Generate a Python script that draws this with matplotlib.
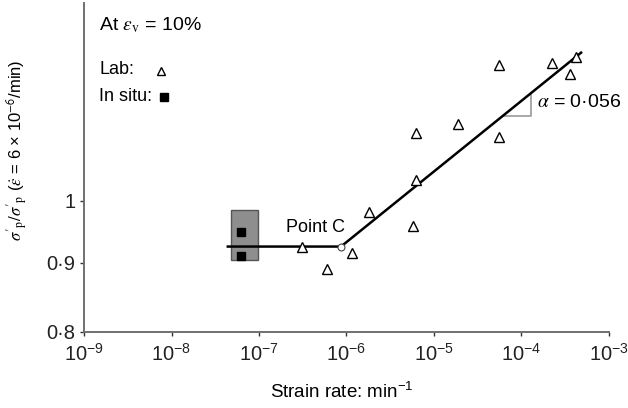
import numpy as np
import matplotlib
matplotlib.use("Agg")
import matplotlib.pyplot as plt
from matplotlib.patches import Rectangle
from matplotlib.ticker import FixedLocator, FixedFormatter, NullLocator

plt.rcParams['font.family'] = ['Liberation Sans', 'DejaVu Sans']
plt.rcParams['mathtext.fontset'] = 'custom'
plt.rcParams['mathtext.rm'] = 'Liberation Sans'
plt.rcParams['mathtext.sf'] = 'Liberation Sans'
plt.rcParams['mathtext.it'] = 'Liberation Sans:italic'

# lab tests (strain rate in 1/min, normalised preconsolidation stress)
lab_rate = [3.1e-7, 6.0e-7, 1.16e-6, 1.8e-6, 5.8e-6, 6.2e-6, 6.3e-6,
            1.9e-5, 5.6e-5, 5.6e-5, 2.25e-4, 3.6e-4, 4.2e-4]
lab_ratio = [0.925, 0.891, 0.915, 0.981, 0.958, 1.036, 1.121,
             1.139, 1.114, 1.259, 1.263, 1.240, 1.276]

# in situ measurements and their range
insitu_rate = [6.3e-8, 6.3e-8]
insitu_ratio = [0.948, 0.910]
insitu_box_rate = [4.8e-8, 9.7e-8]
insitu_box_ratio = [0.904, 0.985]

# bilinear fit, break at point C
fit_rate = [4.4e-8, 8.65e-7, 4.8e-4]
fit_ratio = [0.925, 0.925, 1.286]
point_c = (8.65e-7, 0.925)

xticks = [1e-9, 1e-8, 1e-7, 1e-6, 1e-5, 1e-4, 1e-3]
xtick_labels = [r"10$^{-9}$", r"10$^{-8}$", r"10$^{-7}$", r"10$^{-6}$",
                r"10$^{-5}$", r"10$^{-4}$", r"10$^{-3}$"]
yticks = [0.8, 0.9, 1.0]
ytick_labels = ["0·8", "0·9", "1"]

fig = plt.figure(figsize=(6.28, 4.08), dpi=100)
ax = fig.add_axes([0.1338, 0.1863, 0.8359, 0.8071])
ax.set_xscale("log")
ax.set_yscale("log")
ax.set_xlim(1e-9, 1e-3)
ax.set_ylim(0.8, 1.4)

axis_grey = "#707070"
for side in ["top", "right"]:
    ax.spines[side].set_visible(False)
for side in ["left", "bottom"]:
    ax.spines[side].set_color(axis_grey)
    ax.spines[side].set_linewidth(1.4)

ax.xaxis.set_major_locator(FixedLocator(xticks))
ax.xaxis.set_major_formatter(FixedFormatter(xtick_labels))
ax.xaxis.set_minor_locator(NullLocator())
ax.yaxis.set_major_locator(FixedLocator(yticks))
ax.yaxis.set_major_formatter(FixedFormatter(ytick_labels))
ax.yaxis.set_minor_locator(NullLocator())
ax.tick_params(axis="both", colors="#333333", labelcolor="#222222",
               labelsize=14.5, length=3, width=1, direction="out")
ax.tick_params(axis="x", pad=5)
ax.tick_params(axis="y", pad=3)

# in situ range box
ax.add_patch(Rectangle((insitu_box_rate[0], insitu_box_ratio[0]),
                       insitu_box_rate[1] - insitu_box_rate[0],
                       insitu_box_ratio[1] - insitu_box_ratio[0],
                       facecolor="#8e8e8e", edgecolor="#555555", lw=1, zorder=1))

ax.plot(fit_rate, fit_ratio, color="black", lw=1.8, zorder=2)
ax.plot(lab_rate, lab_ratio, linestyle="none", marker="^", ms=6.5,
        mfc="white", mec="black", mew=1, zorder=3)
ax.plot(insitu_rate, insitu_ratio, linestyle="none", marker="s", ms=6,
        color="black", zorder=3)
ax.plot(*point_c, marker="o", ms=5, mfc="white", mec="#444444", mew=0.8, zorder=4)

# slope triangle under the rising branch
lx = np.log10(fit_rate[1:])
ly = np.log10(fit_ratio[1:])
tri_x = np.array([6.15e-5, 1.285e-4])
tri_y = 10 ** np.interp(np.log10(tri_x), lx, ly)
ax.plot([tri_x[0], tri_x[1], tri_x[1]], [tri_y[0], tri_y[0], tri_y[1]],
        color="#999999", lw=1.2, zorder=1)

# greek symbols set in STIX italic, the rest in sans
ax.text(2.04e-7, 0.9547, "Point C", fontsize=13, va="center", ha="left")
ax.text(1.5e-4, 1.181, r"$\alpha$ = 0·056", fontsize=14, va="center", ha="left",
        math_fontfamily="stix")

ax.text(0.0286, 0.932, r"At $\varepsilon_{\mathrm{v}}$ = 10%", fontsize=14,
        va="center", ha="left", transform=ax.transAxes, math_fontfamily="stix")
ax.text(0.0286, 0.796, "Lab:", fontsize=13, va="center", ha="left",
        transform=ax.transAxes)
ax.plot(0.1467, 0.794, marker="^", ms=5.5, mfc="white", mec="black", mew=1,
        transform=ax.transAxes, clip_on=False)
ax.text(0.0286, 0.714, "In situ:", fontsize=13, va="center", ha="left",
        transform=ax.transAxes)
ax.plot(0.152, 0.714, marker="s", ms=6, color="black",
        transform=ax.transAxes, clip_on=False)

fig.text(0.545, 0.039, r"Strain rate: min$^{-1}$", fontsize=13.5,
         ha="center", va="center")
fig.text(0.027, 0.632,
         r"$\sigma'_{\mathrm{p}}/\sigma'_{\mathrm{p}}$ ($\dot{\varepsilon}$ = 6 × 10$^{\mathsf{-6}}$/min)",
         fontsize=12, rotation=90, ha="center", va="center",
         math_fontfamily="stix")

fig.savefig("out.png", dpi=100)
